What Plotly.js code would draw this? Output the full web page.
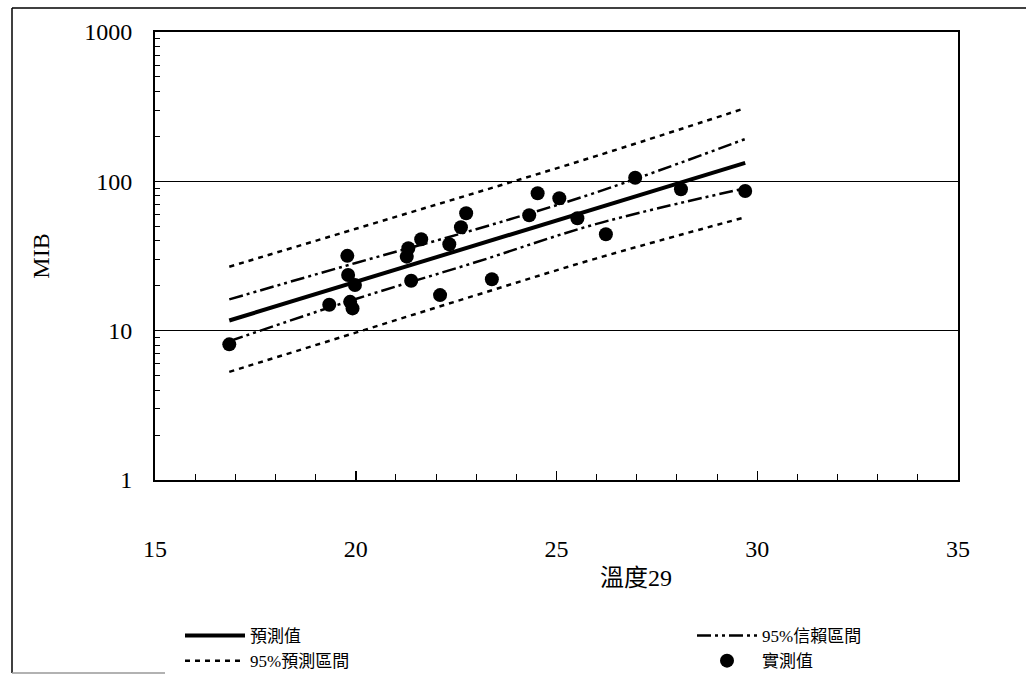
<!DOCTYPE html>
<html>
<head>
<meta charset="utf-8">
<script src="https://cdn.plot.ly/plotly-3.0.1.min.js"></script>
<style>html,body{margin:0;padding:0;background:#fff;}#chart{width:1026px;height:675px;}</style>
</head>
<body>
<div id="chart"></div>
<script>
// Observed points (溫度, MIB)
const obsTemp = [16.85, 19.34, 19.79, 19.81, 19.98, 19.86, 19.92, 21.31, 21.27, 21.38, 21.63, 22.10, 22.33, 22.62, 22.75, 23.39, 24.32, 24.53, 25.07, 25.52, 26.23, 26.96, 28.10, 29.70];
const obsMIB  = [8.1, 14.9, 31.7, 23.6, 20.2, 15.6, 14.1, 35.6, 31.3, 21.6, 40.9, 17.3, 37.9, 49.3, 61.1, 22.1, 59.3, 83.2, 77.1, 56.6, 44.2, 105.8, 88.5, 86.2];

// Fitted curves
const lineTemp = [16.85, 20, 23, 26, 29.7];
const predicted = [11.7, 21.2, 37.5, 66.7, 133];
const ciUpper = [16.2, 28.4, 47.8, 84.5, 192];
const ciLower = [8.5, 16.3, 28.8, 51.9, 89.8];
const piUpper = [26.8, 48.1, 84, 148, 309];
const piLower = [5.3, 9.7, 17.3, 30.5, 57.5];

const xTicks = [15, 20, 25, 30, 35];
const yTicks = [1, 10, 100, 1000];

const FONT = '"Liberation Serif", "Noto Sans CJK TC", serif';
const ciDash = '14px,4px,3px,4px,3px,4px';
const piDash = '5px,5px';

const traces = [
  {x: lineTemp, y: predicted, mode: 'lines', name: '預測值', legend: 'legend', line: {color: '#000', width: 4}},
  {x: lineTemp, y: piUpper, mode: 'lines', name: '95%預測區間', legend: 'legend', legendgroup: 'pi', line: {color: '#000', width: 2.5, dash: piDash, shape: 'spline'}},
  {x: lineTemp, y: ciUpper, mode: 'lines', name: '95%信賴區間', legend: 'legend2', legendgroup: 'ci', line: {color: '#000', width: 2.5, dash: ciDash, shape: 'spline'}},
  {x: obsTemp, y: obsMIB, mode: 'markers', name: '實測值', legend: 'legend2', marker: {color: '#000', size: 14}},
  {x: lineTemp, y: ciLower, mode: 'lines', name: '95%信賴區間', legendgroup: 'ci', showlegend: false, line: {color: '#000', width: 2.5, dash: ciDash, shape: 'spline'}},
  {x: lineTemp, y: piLower, mode: 'lines', name: '95%預測區間', legendgroup: 'pi', showlegend: false, line: {color: '#000', width: 2.5, dash: piDash, shape: 'spline'}}
];

const legendBase = {orientation: 'v', yanchor: 'top', font: {family: FONT, size: 17, color: '#000'},
                    bgcolor: 'rgba(0,0,0,0)', tracegroupgap: 0, itemwidth: 60, traceorder: 'normal'};

const layout = {
  width: 1026, height: 675,
  margin: {l: 155, r: 68, t: 32, b: 195, autoexpand: false},
  paper_bgcolor: '#fff', plot_bgcolor: '#fff',
  font: {family: FONT, color: '#000', size: 20},
  showlegend: true,
  legend: Object.assign({}, legendBase, {x: (180 - 155) / 803, xanchor: 'left', y: (480 - 618) / 448}),
  legend2: Object.assign({}, legendBase, {x: (692 - 155) / 803, xanchor: 'left', y: (480 - 618) / 448}),
  xaxis: {
    range: [15, 35], tickvals: xTicks, ticktext: xTicks.map(String),
    ticks: 'inside', ticklen: 9, tickwidth: 1.5, tickcolor: '#000',
    minor: {dtick: 1, ticks: 'inside', ticklen: 6, tickcolor: '#000', tickwidth: 1},
    showline: true, linecolor: '#000', linewidth: 2, mirror: true,
    showgrid: false, zeroline: false,
    ticklabelstandoff: 46,
    tickfont: {family: FONT, size: 24}
  },
  yaxis: {
    type: 'log', range: [0, 3], tickvals: yTicks, ticktext: yTicks.map(String),
    ticks: 'inside', ticklen: 8, tickwidth: 1.5, tickcolor: '#000',
    minor: {ticks: 'inside', ticklen: 5, tickcolor: '#000', tickwidth: 1, dtick: 'D1', showgrid: false},
    showline: true, linecolor: '#000', linewidth: 2, mirror: true,
    showgrid: true, gridcolor: '#000', gridwidth: 1.5, zeroline: false,
    ticklabelstandoff: 16,
    tickfont: {family: FONT, size: 24},
    title: {text: 'MIB', font: {family: FONT, size: 24}, standoff: 28}
  },
  annotations: [
    {text: '溫度29', xref: 'paper', yref: 'paper', x: (636 - 155) / 803, y: (480 - 578) / 448,
     xanchor: 'center', yanchor: 'middle', showarrow: false, font: {family: FONT, size: 24, color: '#000'}}
  ],
  shapes: [
    {type: 'line', xref: 'paper', yref: 'paper', x0: (12 - 155) / 803, x1: (12 - 155) / 803, y0: (480 - 8) / 448, y1: (480 - 673) / 448, line: {color: '#000', width: 1.5}},
    {type: 'line', xref: 'paper', yref: 'paper', x0: (12 - 155) / 803, x1: (1026 - 155) / 803, y0: (480 - 8) / 448, y1: (480 - 8) / 448, line: {color: '#000', width: 1.5}},
    {type: 'line', xref: 'paper', yref: 'paper', x0: (12 - 155) / 803, x1: (165 - 155) / 803, y0: (480 - 673) / 448, y1: (480 - 673) / 448, line: {color: '#999', width: 1.5}}
  ]
};

Plotly.newPlot('chart', traces, layout, {staticPlot: true, displayModeBar: false});
</script>
</body>
</html>
